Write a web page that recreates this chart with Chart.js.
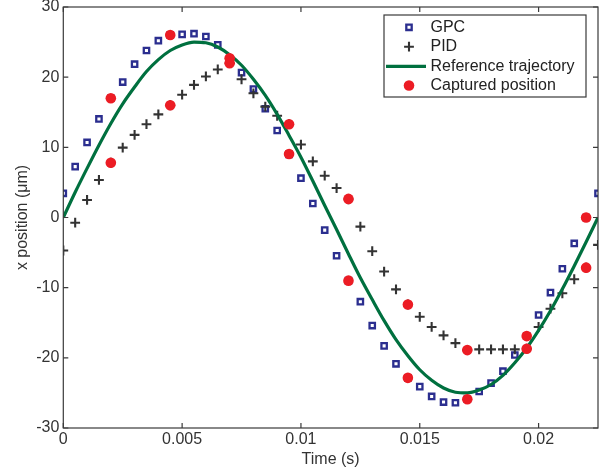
<!DOCTYPE html>
<html><head><meta charset="utf-8">
<script src="https://cdn.jsdelivr.net/npm/chart.js@4/dist/chart.umd.min.js"></script>
<style>html,body{margin:0;padding:0;background:#fff}#wrap{width:605px;height:474px;position:relative}</style>
</head><body><div id="wrap"><canvas id="c"></canvas></div>
<script>
// ---- data ----
const sampleTimes = [0,0.0005,0.001,0.0015,0.002,0.0025,0.003,0.0035,0.004,0.0045,0.005,0.0055,0.006,0.0065,0.007,0.0075,0.008,0.0085,0.009,0.0095,0.01,0.0105,0.011,0.0115,0.012,0.0125,0.013,0.0135,0.014,0.0145,0.015,0.0155,0.016,0.0165,0.017,0.0175,0.018,0.0185,0.019,0.0195,0.02,0.0205,0.021,0.0215,0.022,0.0225];
const gpcValues = [3.45,7.25,10.7,14.05,17.0,19.3,21.85,23.8,25.2,26.0,26.1,26.2,25.8,24.6,22.5,20.65,18.3,15.5,12.4,9.0,5.6,2.0,-1.8,-5.45,-9.0,-12.0,-15.4,-18.3,-20.85,-22.85,-24.1,-25.5,-26.3,-26.4,-25.9,-24.8,-23.6,-21.9,-19.6,-16.9,-13.9,-10.7,-7.3,-3.7,0.0,3.45];
const pidValues = [-4.7,-0.74,2.5,5.35,7.8,9.96,11.77,13.3,14.7,16.0,17.5,18.9,20.1,21.1,22.0,19.7,17.7,15.8,14.5,13.3,10.4,8.0,5.96,4.2,2.6,-1.3,-4.8,-7.7,-10.25,-12.4,-14.15,-15.6,-16.8,-17.9,-18.9,-18.8,-18.8,-18.8,-18.8,-18.7,-15.6,-13.0,-10.8,-8.8,-7.15,-3.9];
const referenceValues = [0,3.6,7.0,10.3,13.4,16.2,18.6,20.8,22.5,23.8,24.6,25.0,24.9,24.3,23.2,21.7,19.7,17.4,14.7,11.7,8.6,5.2,1.7,-1.7,-5.2,-8.6,-11.7,-14.7,-17.4,-19.7,-21.7,-23.2,-24.3,-24.9,-25.0,-24.6,-23.8,-22.5,-20.7,-18.6,-16.1,-13.3,-10.2,-6.9,-3.5,0];
const capturedTimes = [0.002,0.002,0.0045,0.0045,0.007,0.007,0.0095,0.0095,0.012,0.012,0.0145,0.0145,0.017,0.017,0.0195,0.0195,0.022,0.022];
const capturedValues = [17.0,7.8,26.0,16.0,22.7,22.0,13.3,9.05,2.65,-9.0,-12.4,-22.85,-18.9,-25.9,-16.9,-18.7,0.0,-7.15];
const xTickValues = [0,0.005,0.01,0.015,0.02];
const xTickLabels = ['0','0.005','0.01','0.015','0.02'];
const yTickValues = [-30,-20,-10,0,10,20,30];
const yTickLabels = ['-30','-20','-10','0','10','20','30'];
const seriesNames = ['GPC','PID','Reference trajectory','Captured position'];

const pts = (xs, ys) => xs.map((x, i) => ({x, y: ys[i]}));

Chart.defaults.font.family = '"Liberation Sans", Arial, Helvetica, sans-serif';
Chart.defaults.color = '#333';

const axisBox = {
  id: 'axisBox',
  afterDatasetsDraw(chart) {
    const {ctx, chartArea: a, scales: {x, y}} = chart;
    ctx.save();
    ctx.strokeStyle = '#3a3a3a';
    ctx.lineWidth = 1.2;
    ctx.strokeRect(a.left, a.top, a.right - a.left, a.bottom - a.top);
    const L = 5;
    ctx.beginPath();
    xTickValues.forEach(v => {
      const px = x.getPixelForValue(v);
      ctx.moveTo(px, a.bottom); ctx.lineTo(px, a.bottom - L);
      ctx.moveTo(px, a.top); ctx.lineTo(px, a.top + L);
    });
    yTickValues.forEach(v => {
      const py = y.getPixelForValue(v);
      ctx.moveTo(a.left, py); ctx.lineTo(a.left + L, py);
      ctx.moveTo(a.right, py); ctx.lineTo(a.right - L, py);
    });
    ctx.stroke();
    ctx.restore();
  },
  afterDraw(chart) {
    const ctx = chart.ctx;
    ctx.save();
    const bx = 384, by = 15, bw = 202, bh = 82;
    ctx.fillStyle = '#fff';
    ctx.fillRect(bx, by, bw, bh);
    ctx.strokeStyle = '#3a3a3a';
    ctx.lineWidth = 1.2;
    ctx.strokeRect(bx, by, bw, bh);
    const rows = [27.3, 46.7, 66.3, 85.5];
    const symX = 409;
    chart.data.datasets.forEach((ds, i) => {
      const yy = rows[i];
      if (ds.showLine) {
        ctx.strokeStyle = ds.borderColor;
        ctx.lineWidth = ds.borderWidth;
        ctx.beginPath(); ctx.moveTo(386, yy); ctx.lineTo(426, yy); ctx.stroke();
      } else {
        ctx.fillStyle = ds.pointBackgroundColor;
        ctx.strokeStyle = ds.pointBorderColor;
        ctx.lineWidth = ds.pointBorderWidth;
        Chart.helpers.drawPoint(ctx, {
          pointStyle: ds.pointStyle, radius: ds.pointRadius, borderWidth: ds.pointBorderWidth, rotation: 0
        }, symX, yy);
      }
      ctx.fillStyle = '#222';
      ctx.font = '16px "Liberation Sans", Arial, sans-serif';
      ctx.textBaseline = 'middle';
      ctx.textAlign = 'left';
      ctx.fillText(ds.label, 430.5, yy);
    });
    ctx.restore();
  }
};

new Chart(document.getElementById('c'), {
  type: 'scatter',
  data: {
    datasets: [
      {label: seriesNames[0], data: pts(sampleTimes, gpcValues), showLine: false, pointStyle: 'rect',
       pointRadius: 3.8, pointBorderWidth: 2.3, pointBackgroundColor: '#ffffff', pointBorderColor: '#2b2e8f', order: 3},
      {label: seriesNames[1], data: pts(sampleTimes, pidValues), showLine: false, pointStyle: 'cross',
       pointRadius: 4.9, pointBorderWidth: 2.1, pointBackgroundColor: '#333', pointBorderColor: '#333', order: 2},
      {label: seriesNames[2], data: pts(sampleTimes, referenceValues), showLine: true, pointRadius: 0,
       borderColor: '#00703f', borderWidth: 3.2, cubicInterpolationMode: 'monotone', fill: false, order: 1},
      {label: seriesNames[3], data: pts(capturedTimes, capturedValues), showLine: false, pointStyle: 'circle',
       pointRadius: 5.3, pointBorderWidth: 0, pointBackgroundColor: '#ec1c24', pointBorderColor: '#ec1c24', order: 0}
    ]
  },
  options: {
    responsive: true, maintainAspectRatio: false, animation: false,
    layout: {padding: {top: 7, right: 7, left: 0, bottom: 0}},
    plugins: {legend: {display: false}, tooltip: {enabled: false}},
    elements: {point: {hoverRadius: 0}},
    scales: {
      x: {
        type: 'linear', min: 0, max: 0.0225,
        grid: {display: false, drawTicks: false}, border: {display: false},
        afterBuildTicks: s => { s.ticks = xTickValues.map(v => ({value: v})); },
        afterFit: s => { s.height = 46; s.paddingLeft = 0; s.paddingRight = 0; },
        ticks: {padding: 2, font: {size: 16}, color: '#333', maxRotation: 0,
                callback: v => xTickLabels[xTickValues.indexOf(v)]},
        title: {display: true, text: 'Time (s)', font: {size: 16}, color: '#333', padding: {top: 0, bottom: 5}}
      },
      y: {
        type: 'linear', min: -30, max: 30,
        grid: {display: false, drawTicks: false}, border: {display: false},
        afterBuildTicks: s => { s.ticks = yTickValues.map(v => ({value: v})); },
        afterFit: s => { s.width = 63.3; s.paddingTop = 0; s.paddingBottom = 0; },
        ticks: {padding: 4, font: {size: 16}, color: '#333',
                callback: v => yTickLabels[yTickValues.indexOf(v)]},
        title: {display: true, text: 'x position (μm)', font: {size: 16}, color: '#333', padding: {top: 13, bottom: 0}}
      }
    }
  },
  plugins: [axisBox]
});
</script>
</body></html>
